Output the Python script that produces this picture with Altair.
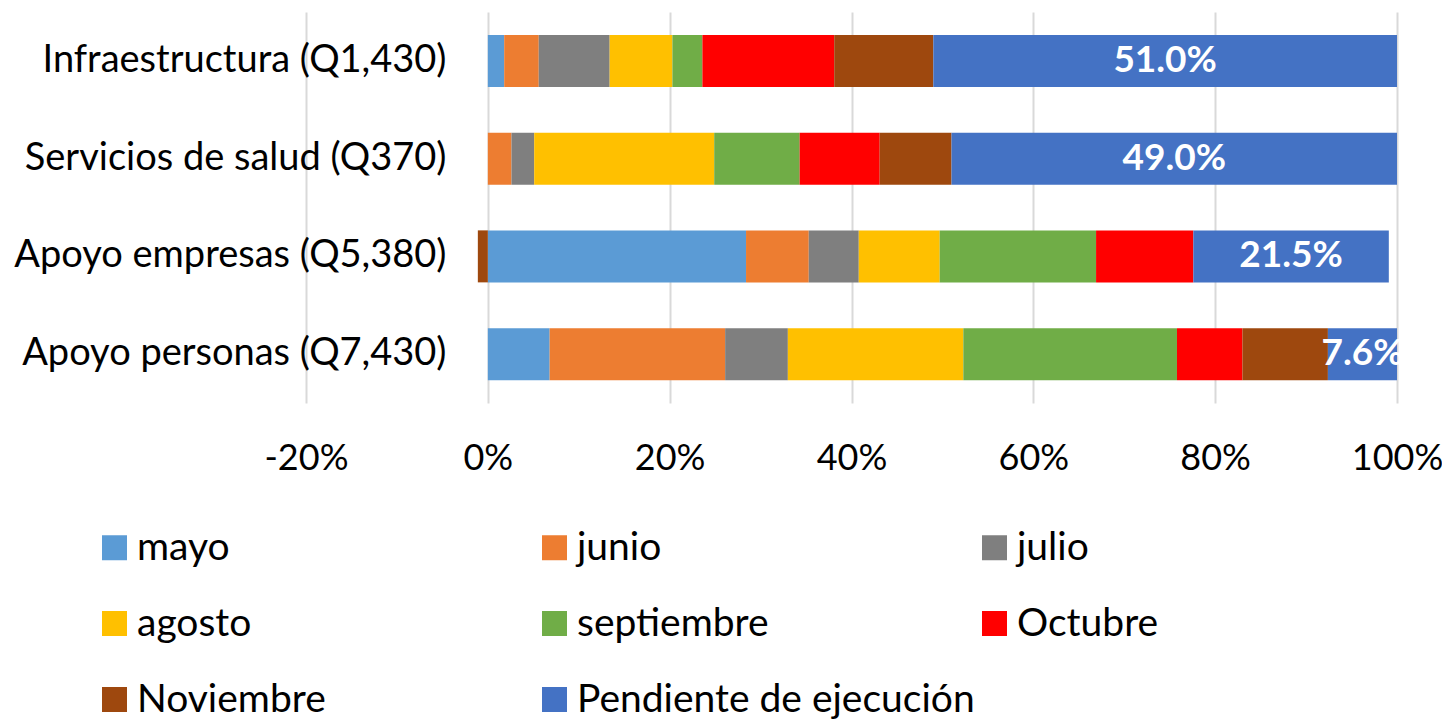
import altair as alt
import pandas as pd

categories = ["Infraestructura (Q1,430)", "Servicios de salud (Q370)",
              "Apoyo empresas (Q5,380)", "Apoyo personas (Q7,430)"]
months = ["mayo", "junio", "julio", "agosto", "septiembre", "Octubre",
          "Noviembre", "Pendiente de ejecución"]
colors = ["#5B9BD5", "#ED7D31", "#7F7F7F", "#FFC000", "#70AD47", "#FF0000",
          "#9E480E", "#4472C4"]

infraestructura = [1.8, 3.8, 7.8, 6.9, 3.3, 14.5, 10.9, 51.0]
salud = [0.0, 2.6, 2.5, 19.8, 9.4, 8.8, 7.9, 49.0]
empresas = [28.4, 6.9, 5.5, 8.9, 17.2, 10.7, -1.1, 21.5]
personas = [6.8, 19.3, 6.9, 19.3, 23.5, 7.2, 9.4, 7.6]

x_ticks = [-20, 0, 20, 40, 60, 80, 100]

series = [infraestructura, salud, empresas, personas]
rows = []
for cat, vals in zip(categories, series):
    for i, (m, v) in enumerate(zip(months, vals)):
        rows.append({"category": cat, "month": m, "idx": i, "value": v})
df = pd.DataFrame(rows)

FONT = "Lato"

y_enc = alt.Y("category:N", sort=categories, title=None,
              scale=alt.Scale(paddingInner=0.468, paddingOuter=0.234),
              axis=alt.Axis(domain=False, ticks=False, tickSize=0,
                            labelPadding=42, offset=-182,
                            labelFont=FONT, labelFontSize=38,
                            labelColor="black", labelLimit=600, grid=False))
x_scale = alt.Scale(domain=[-20, 100], nice=False, zero=False)

bars = alt.Chart(df).mark_bar(size=52).encode(
    x=alt.X("value:Q", stack="zero", scale=x_scale, title=None,
            axis=alt.Axis(values=x_ticks, labelExpr="datum.value + '%'",
                          domain=False, ticks=False, labelPadding=38,
                          labelFlush=False,
                          grid=True, gridColor="#D9D9D9", gridWidth=2,
                          labelFont=FONT, labelFontSize=36,
                          labelColor="black")),
    y=y_enc,
    color=alt.Color("month:N", sort=months,
                    scale=alt.Scale(domain=months, range=colors),
                    legend=alt.Legend(title=None, orient="none",
                                      direction="horizontal",
                                      legendX=-211, legendY=516,
                                      columns=3, gridAlign="all",
                                      columnPadding=0, rowPadding=36,
                                      symbolType="square", symbolSize=625,
                                      symbolStrokeWidth=0, labelOffset=3,
                                      labelFont=FONT, labelFontSize=39,
                                      labelColor="black", labelLimit=600)),
    order=alt.Order("idx:Q"),
)

labels = alt.Chart(df).transform_stack(
    stack="value", groupby=["category"], sort=[alt.SortField("idx")],
    as_=["x0", "x1"]
).transform_filter(
    alt.datum.month == "Pendiente de ejecución"
).transform_calculate(
    mid="(datum.x0 + datum.x1) / 2",
    lab="format(datum.value, '.1f') + '%'"
).mark_text(font=FONT, fontSize=37, fontWeight="bold", color="white",
            align="center", baseline="middle").encode(
    x=alt.X("mid:Q", scale=x_scale),
    y=alt.Y("category:N", sort=categories),
    text="lab:N",
)

chart = alt.layer(bars, labels).properties(
    width=1091, height=391,
    autosize=alt.AutoSizeParams(type="none"),
    padding={"left": 298, "top": 4, "right": 45, "bottom": 318},
).configure_view(stroke=None)

chart.save("out.html", embed_options={"renderer": "svg", "actions": False})
